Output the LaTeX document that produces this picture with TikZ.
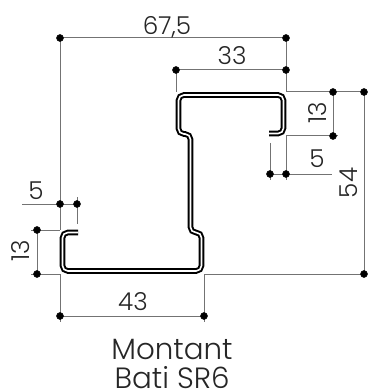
\documentclass[tikz,border=0pt]{standalone}
\usepackage{fontspec}
\setmainfont{Poppins}[UprightFont=* Light]
\tikzset{
  dimline/.style={color=black!55, line width=0.75pt},
  dimdot/.style={color=black, fill=black},
  dimtext/.style={font=\fontsize{18.5}{20}\selectfont, inner sep=0pt, text=black!85},
  titletext/.style={font=\fontsize{22}{26}\selectfont, inner sep=0pt, text=black!85, anchor=base, text depth=0pt}
}

\begin{document}
\begin{tikzpicture}[x=0.75pt, y=-0.75pt]
\useasboundingbox (0,0) rectangle (370,392);

\coordinate (A) at (60,38);
\coordinate (B) at (286,38);
\coordinate (C) at (176,70);
\coordinate (D) at (286,70);
\coordinate (E) at (333,92);
\coordinate (F) at (364,92);
\coordinate (G) at (333,136);
\coordinate (H) at (270,174);
\coordinate (I) at (286,174);
\coordinate (J) at (60,204);
\coordinate (K) at (77,204);
\coordinate (L) at (37,230);
\coordinate (M) at (37,274);
\coordinate (N) at (60,316);
\coordinate (P) at (204,316);
\coordinate (Q) at (364,274);

% dimension lines
\draw[dimline] (60,230) -- (A) -- (B) -- (286,92) -- (F) -- (Q) -- (204,274);
\draw[dimline] (C) -- (D);
\draw[dimline] (C) -- (176,92);
\draw[dimline] (E) -- (G);
\draw[dimline] (286,136) -- (338,136);
\draw[dimline] (286,136) -- (286,180);
\draw[dimline] (270,143) -- (270,180);
\draw[dimline] (H) -- (332,174);
\draw[dimline] (22,204) -- (K);
\draw[dimline] (77,197) -- (77,224);
\draw[dimline] (31,230) -- (60,230);
\draw[dimline] (31,274) -- (60,274);
\draw[dimline] (L) -- (M);
\draw[dimline] (60,274) -- (60,322);
\draw[dimline] (204,274) -- (204,322);
\draw[dimline] (N) -- (P);

% profile
\draw[line width=4.2pt, rounded corners=4pt, color=black]
  (78,232.5) -- (62.5,232.5) -- (62.5,271) -- (201.5,271) -- (201.5,232.5) -- (190.5,232.5)
  -- (190.5,134) -- (178.5,134) -- (178.5,95) -- (283.5,95) -- (283.5,133.5) -- (269,133.5);
\draw[line width=1.2pt, rounded corners=4pt, color=white]
  (78,232.5) -- (62.5,232.5) -- (62.5,271) -- (201.5,271) -- (201.5,232.5) -- (190.5,232.5)
  -- (190.5,134) -- (178.5,134) -- (178.5,95) -- (283.5,95) -- (283.5,133.5) -- (269,133.5);

\foreach \p in {A,B,C,D,E,F,G,H,I,J,K,L,M,N,P,Q}
  \filldraw[dimdot] (\p) circle [radius=2.6pt];

\node[dimtext] (w675) at (167,27) {67,5};
\node[dimtext] (w33) at (232,56) {33};
\node[dimtext, rotate=90] (h13a) at (318,113) {13};
\node[dimtext] (w5a) at (317,159) {5};
\node[dimtext, rotate=90] (h54) at (349,183) {54};
\node[dimtext] (w5b) at (36,191) {5};
\node[dimtext, rotate=90] (h13b) at (21,251) {13};
\node[dimtext] (w43) at (133,302) {43};
\node[titletext] (montant) at (172,359) {Montant};
\node[titletext] (bati) at (172,388.5) {Bati SR6};
\end{tikzpicture}
\end{document}
